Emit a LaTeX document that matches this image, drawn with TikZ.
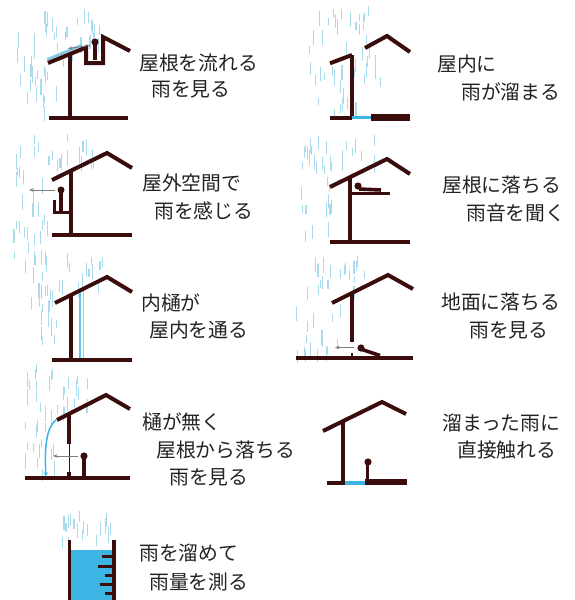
\documentclass[tikz,border=0pt]{standalone}
\usepackage{fontspec}
\newfontfamily\jpfont{Noto Sans CJK JP}
\usetikzlibrary{arrows.meta}

\definecolor{house}{RGB}{58,12,12}
\definecolor{rainblue}{RGB}{170,218,238}
\definecolor{roofwater}{RGB}{130,200,230}
\definecolor{water}{RGB}{60,180,228}
\definecolor{labelgray}{RGB}{35,35,35}
\definecolor{pointer}{RGB}{125,125,125}

\tikzset{
  roofline/.style={draw=house, line width=4pt, line join=miter},
  wallline/.style={draw=house, line width=3.6pt},
  thinwall/.style={draw=house, line width=0.9pt},
  personbody/.style={draw=house, line width=3.6pt},
  personhead/.style={fill=house},
  raindash/.style={draw=rainblue, line width=1.1pt},
  caption/.style={font=\jpfont\fontsize{19.8}{22}\selectfont, text=labelgray, anchor=west, inner sep=0pt},
  look/.style={draw=pointer, line width=0.8pt, -{Stealth[length=4.5pt,width=3.5pt]}},
}

% scattered rain dashes inside a box: x0,y0,x1,y1,count
\newcommand\rainfield[5]{%
  \foreach \k in {1,...,#5}{%
    \pgfmathsetmacro\rx{#1+rnd*(#3-#1)}%
    \pgfmathsetmacro\ry{#2+rnd*(#4-#2)}%
    \pgfmathsetmacro\rl{7+rnd*9}%
    \draw[raindash] (\rx,\ry) -- ++(0,\rl);%
  }%
}

\begin{document}
\begin{tikzpicture}[x=1pt,y=-1pt]
\useasboundingbox (0,0) rectangle (575,600);
\fill[white] (0,0) rectangle (575,600);
\pgfmathsetseed{4217}

% ---------- rain ----------
\rainfield{15}{6}{100}{55}{30}
\rainfield{15}{55}{64}{112}{20}
\rainfield{300}{6}{385}{112}{46}
\rainfield{10}{130}{95}{160}{20}
\rainfield{10}{160}{50}{252}{22}
\rainfield{296}{130}{375}{160}{20}
\rainfield{296}{160}{344}{232}{16}
\rainfield{25}{250}{105}{285}{22}
\rainfield{25}{285}{62}{378}{22}
\rainfield{296}{255}{375}{290}{20}
\rainfield{296}{290}{345}{352}{16}
\rainfield{22}{370}{95}{410}{22}
\rainfield{22}{410}{55}{472}{14}
\rainfield{62}{508}{112}{538}{18}

% ---------- 1: rain running on the roof ----------
\draw[wallline] (70,54) -- (70,118);
\draw[wallline] (49,118) -- (128,118);
\draw[draw=roofwater, line width=2.6pt] (47,59.5) -- (82,45);
\draw[roofline] (48,63) -- (86,47.5) -- (86,63) -- (103,63) -- (103,37) -- (130,51);
\fill[personhead] (95,42) circle (3.6);
\draw[personbody] (95,44) -- (95,60);
\coordinate (p1eye) at (90,45.5);
\coordinate (p1see) at (68,48.5);
\draw[look] (p1eye) -- (p1see);
\node[caption] (t1a) at (139,63) {屋根を流れる};
\node[caption] (t1b) at (151,89) {雨を見る};

% ---------- 2: rain collecting indoors ----------
\draw[wallline] (352,55) -- (352,118);
\draw[roofline] (330,63.3) -- (352,55);
\draw[wallline] (330,118) -- (352,118);
\draw[draw=water, line width=3pt] (352,117.5) -- (371,117.5);
\fill[house] (371,114) rectangle (410,121);
\draw[roofline] (365,48) -- (387,36) -- (410,52);
\node[caption] (t2a) at (437,64) {屋内に};
\node[caption] (t2b) at (461,92) {雨が溜まる};

% ---------- 3: feeling rain outdoors ----------
\draw[wallline] (71,170) -- (71,235);
\draw[wallline] (52,235) -- (132,235);
\draw[roofline] (52,180) -- (107,153) -- (132,168);
\draw[draw=house, line width=3pt] (54,200) -- (54,212) -- (71,212);
\fill[personhead] (61,190) circle (3.5);
\draw[draw=house, line width=3.2pt] (61,192) -- (61,212);
\coordinate (p3eye) at (55,190);
\coordinate (p3see) at (29,190);
\draw[look] (p3eye) -- (p3see);
\node[caption] (t3a) at (142,183) {屋外空間で};
\node[caption] (t3b) at (154,211) {雨を感じる};

% ---------- 4: hearing rain on the roof ----------
\draw[wallline] (350,177) -- (350,242);
\draw[wallline] (330,242) -- (410,242);
\draw[roofline] (330,187) -- (387,159) -- (410,174);
\draw[draw=house, line width=3pt] (350,193) -- (390,193);
\fill[personhead] (358,186) circle (3.6);
\draw[personbody] (359,189) -- (381,190);
\node[caption] (t4a) at (442,185) {屋根に落ちる};
\node[caption] (t4b) at (466,213) {雨音を聞く};

% ---------- 5: inner gutter ----------
\draw[wallline] (71,295) -- (71,360);
\draw[wallline] (52,360) -- (132,360);
\draw[draw=water!80, line width=1.1pt] (80,290) -- (80,358);
\draw[draw=rainblue!90!gray, line width=1.1pt] (83.5,289) -- (83.5,358);
\draw[roofline] (55,303) -- (107,277) -- (132,292);
\node[caption] (t5a) at (141,303) {内樋が};
\node[caption] (t5b) at (149,330) {屋内を通る};

% ---------- 6: rain falling on the ground ----------
\draw[wallline] (352,293) -- (352,342);
\draw[draw=house, line width=2pt] (352,353) -- (352,358);
\draw[wallline] (296,358) -- (413,358);
\draw[roofline] (332,303) -- (388,275) -- (413,289);
\fill[personhead] (361,348) circle (3.6);
\draw[personbody] (362,349.5) -- (380,355.5);
\coordinate (p6eye) at (354,347.5);
\coordinate (p6see) at (335,347.5);
\draw[look] (p6eye) -- (p6see);
\node[caption] (t6a) at (441,302) {地面に落ちる};
\node[caption] (t6b) at (469,330) {雨を見る};

% ---------- 7: rain falling off the roof edge ----------
\draw[wallline] (69,414) -- (69,444);
\draw[thinwall] (69,444) -- (69,472);
\draw[wallline] (69,472) -- (69,478);
\draw[wallline] (25,478) -- (130,478);
\draw[roofline] (57,420) -- (106,395) -- (130,409);
\coordinate (eave7) at (56,420);
\coordinate (drip7) at (46,477);
\draw[draw=water, line width=1.5pt, -{Stealth[length=5pt,width=4pt]}]
  (eave7) .. controls (48,426) and (44,442) .. (drip7);
\fill[personhead] (84,456) circle (3.6);
\draw[personbody] (84,458) -- (84,478);
\coordinate (p7eye) at (78,456);
\coordinate (p7see) at (53,456);
\draw[look] (p7eye) -- (p7see);
\node[caption] (t7a) at (142,422) {樋が無く};
\node[caption] (t7b) at (156,450) {屋根から落ちる};
\node[caption] (t7c) at (169,477) {雨を見る};

% ---------- 8: touching collected rain ----------
\draw[wallline] (343,421) -- (343,483);
\draw[wallline] (327,483) -- (345,483);
\draw[draw=water, line width=3.4pt] (345,483) -- (365,483);
\fill[house] (365,479) rectangle (407,485);
\fill[personhead] (368,462) circle (3.6);
\draw[personbody] (367.5,464) -- (367.5,481);
\draw[roofline] (323,431) -- (382,402) -- (406,414);
\node[caption] (t8a) at (442,423) {溜まった雨に};
\node[caption] (t8b) at (457,450) {直接触れる};

% ---------- 9: rain gauge ----------
\fill[water] (70.5,550) rectangle (112.5,600);
\draw[wallline] (69.3,540) -- (69.3,600);
\draw[wallline] (114,540) -- (114,600);
\foreach \ty/\tx in {556.7/101.7, 566/98.3, 575/105, 584/100, 593.3/105}
  \draw[draw=house, line width=3pt] (\tx,\ty) -- (114,\ty);
\node[caption] (t9a) at (139,553) {雨を溜めて};
\node[caption] (t9b) at (149,582) {雨量を測る};

\end{tikzpicture}
\end{document}
